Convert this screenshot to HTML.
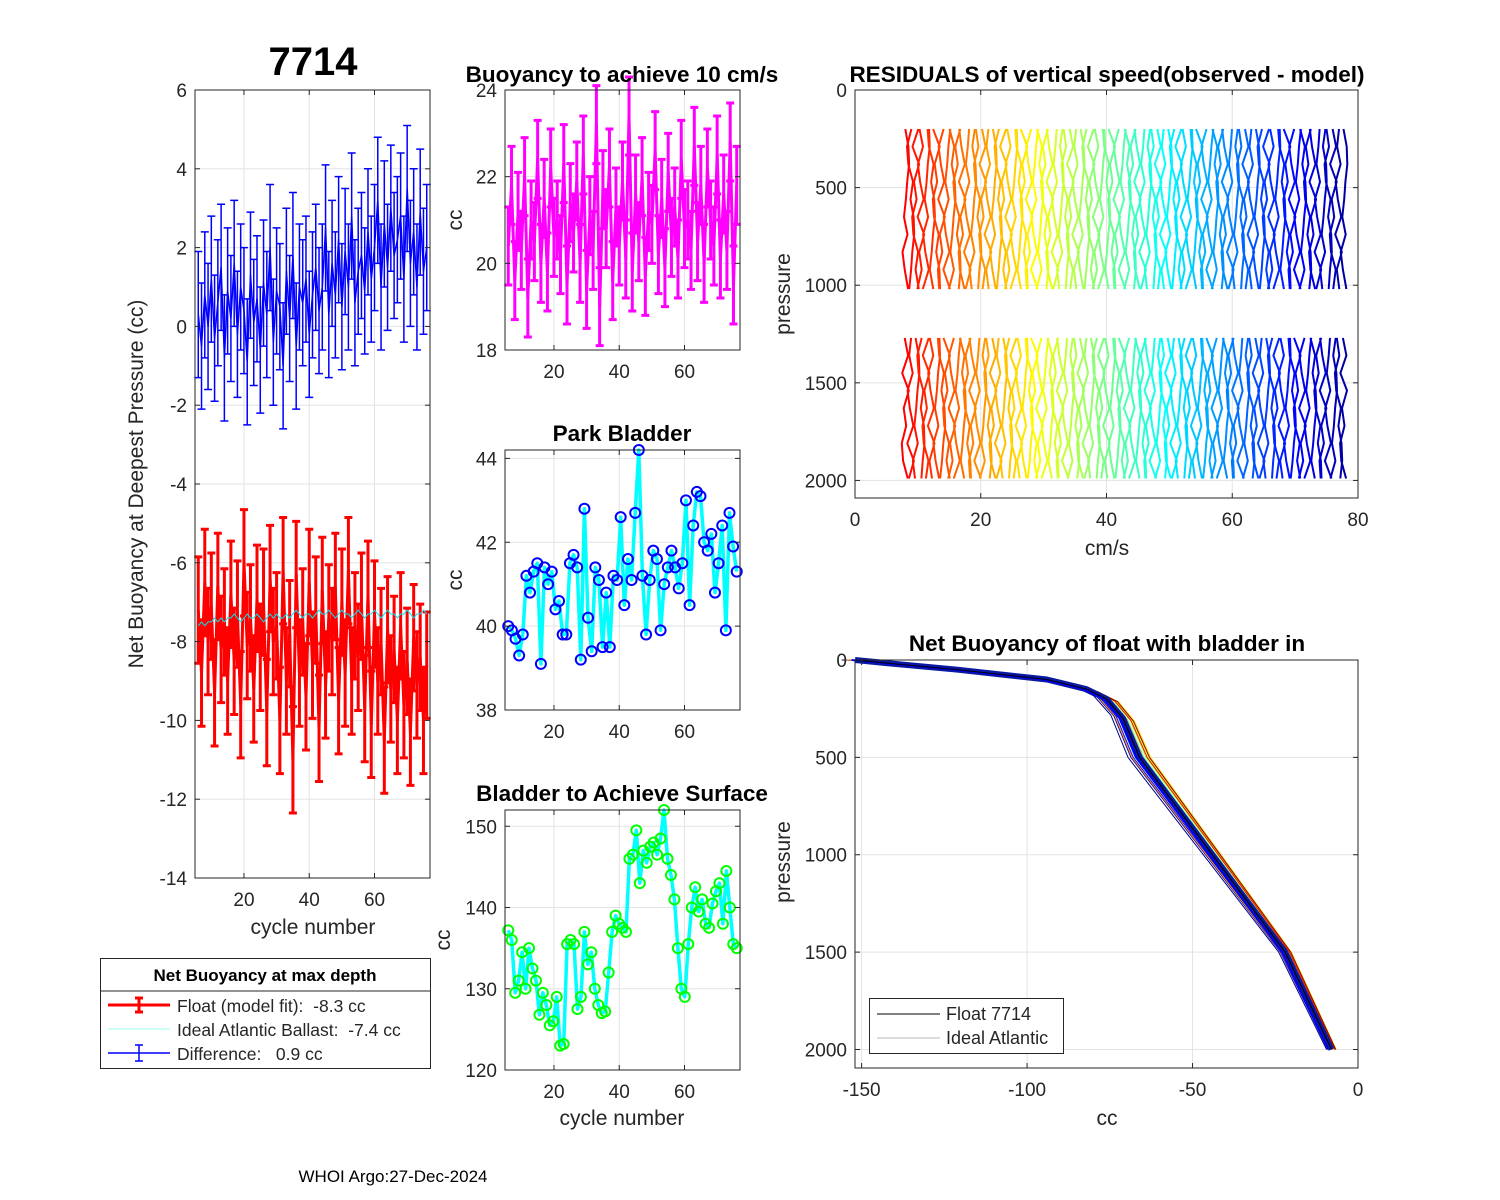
<!DOCTYPE html>
<html><head><meta charset="utf-8"><style>
html,body{margin:0;padding:0;background:#fff;}
svg{display:block;font-family:"Liberation Sans",Arial,sans-serif;}
text{white-space:pre;}
</style></head><body>
<svg id="s" width="1500" height="1200" viewBox="0 0 1500 1200" xmlns="http://www.w3.org/2000/svg"></svg>
<script>
// ---------- data ----------
const netRed=[-7.2,-8.8,-6.5,-8.0,-7.1,-9.3,-6.6,-8.2,-7.5,-9.0,-6.8,-8.5,-7.3,-9.6,-6.0,-8.1,-7.4,-9.2,-6.9,-8.4,-7.0,-9.8,-6.4,-8.0,-7.6,-10.0,-6.2,-9.0,-7.8,-11.0,-6.3,-8.8,-7.5,-9.4,-6.5,-8.6,-7.2,-10.2,-6.7,-9.1,-7.4,-8.0,-6.6,-9.5,-7.0,-8.8,-6.2,-9.0,-7.6,-8.4,-7.1,-9.7,-6.8,-10.1,-7.3,-9.0,-8.0,-10.5,-7.7,-9.2,-8.2,-10.0,-7.6,-9.6,-8.5,-10.3,-7.9,-9.1,-8.4,-10.0,-8.6];
const redErr=1.35;
const netBlue=[0.3,-0.5,0.8,0.0,1.2,-0.3,0.6,1.5,-0.8,0.9,0.2,1.6,-0.2,1.0,0.4,-0.9,1.3,0.1,0.7,-0.6,1.1,0.3,2.0,-0.4,0.9,0.5,-1.0,1.4,0.2,1.8,-0.5,1.0,0.6,1.2,-0.2,0.8,1.5,0.4,1.0,2.5,0.3,1.6,0.8,2.2,0.5,1.9,1.0,2.8,0.6,1.4,1.8,0.9,2.4,1.2,2.0,3.2,1.0,2.6,1.5,3.0,1.8,2.2,2.8,1.2,3.5,1.6,2.4,1.0,2.9,1.4,2.0];
const blueErr=1.6;
const idealAtl=[-7.6,-7.5,-7.6,-7.5,-7.5,-7.4,-7.5,-7.4,-7.5,-7.4,-7.4,-7.3,-7.4,-7.5,-7.4,-7.3,-7.4,-7.4,-7.3,-7.4,-7.5,-7.4,-7.3,-7.4,-7.3,-7.4,-7.4,-7.3,-7.4,-7.3,-7.2,-7.3,-7.4,-7.3,-7.3,-7.4,-7.3,-7.2,-7.3,-7.3,-7.2,-7.3,-7.4,-7.3,-7.2,-7.3,-7.3,-7.4,-7.3,-7.2,-7.3,-7.4,-7.3,-7.3,-7.2,-7.3,-7.4,-7.3,-7.2,-7.3,-7.3,-7.4,-7.3,-7.3,-7.2,-7.3,-7.4,-7.3,-7.3,-7.2,-7.3];
const buoy10=[20.4,21.8,19.6,21.2,20.3,22.0,19.2,21.0,20.5,22.4,20.0,21.5,19.8,22.2,20.6,21.0,20.2,22.3,19.5,21.4,20.7,21.9,20.0,22.5,19.4,21.1,20.3,23.2,19.0,21.7,20.8,22.2,19.6,21.3,20.4,21.9,20.1,23.4,19.8,21.6,20.5,22.0,19.7,21.2,20.9,22.6,20.2,21.5,19.9,22.1,20.6,21.3,20.1,22.4,20.8,21.0,20.3,22.7,20.5,21.8,20.0,22.2,21.0,20.4,22.5,20.1,21.6,20.3,22.8,19.5,21.8];
const buoyErr=0.9;
const parkBl=[40.0,39.9,39.7,39.3,39.8,41.2,40.8,41.3,41.5,39.1,41.4,41.0,41.3,40.4,40.6,39.8,39.8,41.5,41.7,41.4,39.2,42.8,40.2,39.4,41.4,41.1,39.5,40.8,39.5,41.2,41.1,42.6,40.5,41.6,41.1,42.7,44.2,41.2,39.8,41.1,41.8,41.6,39.9,41.0,41.4,41.8,41.4,40.9,41.5,43.0,40.5,42.4,43.2,43.1,42.0,41.8,42.2,40.8,41.5,42.4,39.9,42.7,41.9,41.3];
const surfBl=[137.2,136.0,129.5,131.0,134.5,130.0,135.0,132.5,131.0,126.8,129.5,128.0,125.5,126.0,129.0,123.0,123.2,135.5,136.0,135.5,127.5,129.0,137.0,133.0,134.5,130.0,128.0,127.0,127.2,132.0,137.0,139.0,138.0,137.5,137.0,146.0,146.5,149.5,143.0,147.0,145.5,147.5,148.0,146.5,148.5,152.0,146.0,144.0,141.0,135.0,130.0,129.0,135.5,140.0,142.5,139.5,141.0,138.0,137.5,140.5,142.0,143.0,138.0,144.5,140.0,135.5,135.0];
// residual profiles: centers (cm/s) and wiggles
const resCenters=[];for(let c=8;c<=78;c+=0.82)resCenters.push(c);
const resWiggle=[0.0,0.35,-0.25,0.5,-0.45,0.15,0.6,-0.1,-0.55,0.3,0.45,-0.35,0.1,-0.5,0.4,-0.2,0.55];
const resP1=[200,290,380,470,560,650,740,830,920,1020];
const resP2=[1270,1360,1450,1540,1630,1720,1810,1900,1990];
// net buoyancy profile
const nbP=[0,20,50,100,150,200,300,500,1000,1500,2000];
const nbCC=[-152,-140,-121,-94,-82,-76,-71,-66,-44,-22,-8];
const nbOffsets=[-4,-3,-2.2,-1.5,-0.8,0,0.8,1.5,2.2,3,3.8,-2.6,1.1,2.6,-1.1,3.4];

// ---------- helpers ----------
const S=document.getElementById('s');const NS='http://www.w3.org/2000/svg';
function el(tag,attrs,parent){const e=document.createElementNS(NS,tag);for(const k in attrs)e.setAttribute(k,attrs[k]);(parent||S).appendChild(e);return e;}
function txt(x,y,s,size,opts,parent){opts=opts||{};const t=el('text',{x:x,y:y,'font-size':size,fill:opts.fill||'#262626','text-anchor':opts.anchor||'middle','font-weight':opts.bold?'bold':'normal'},parent);if(opts.rot)t.setAttribute('transform','rotate(-90 '+x+' '+y+')');t.textContent=s;return t;}
function jet(v){const r=Math.min(Math.max(Math.min(4*v-1.5,-4*v+4.5),0),1);const g=Math.min(Math.max(Math.min(4*v-0.5,-4*v+3.5),0),1);const b=Math.min(Math.max(Math.min(4*v+0.5,-4*v+2.5),0),1);return 'rgb('+Math.round(r*255)+','+Math.round(g*255)+','+Math.round(b*255)+')';}
function axes(name,x0,y0,w,h,xmin,xmax,ymin,ymax,xt,yt,rev){
  const g=el('g',{});
  
  
  const sx=v=>x0+(v-xmin)/(xmax-xmin)*w;
  const sy=rev?(v=>y0+(v-ymin)/(ymax-ymin)*h):(v=>y0+h-(v-ymin)/(ymax-ymin)*h);
  el('rect',{x:x0,y:y0,width:w,height:h,fill:'#fff'},g);
  xt.forEach(v=>{el('line',{x1:sx(v),x2:sx(v),y1:y0,y2:y0+h,stroke:'#e3e3e3','stroke-width':1},g);});
  yt.forEach(v=>{el('line',{x1:x0,x2:x0+w,y1:sy(v),y2:sy(v),stroke:'#e3e3e3','stroke-width':1},g);});
  const plot=el('g',{},g);
  const top=el('g',{},g);
  el('rect',{x:x0,y:y0,width:w,height:h,fill:'none',stroke:'#262626','stroke-width':1},top);
  xt.forEach(v=>{el('line',{x1:sx(v),x2:sx(v),y1:y0+h,y2:y0+h-5,stroke:'#262626'},top);el('line',{x1:sx(v),x2:sx(v),y1:y0,y2:y0+5,stroke:'#262626'},top);
    const t=txt(sx(v),y0+h+28,String(v),19,{},top);});
  yt.forEach(v=>{el('line',{x1:x0,x2:x0+5,y1:sy(v),y2:sy(v),stroke:'#262626'},top);el('line',{x1:x0+w,x2:x0+w-5,y1:sy(v),y2:sy(v),stroke:'#262626'},top);
    const t=txt(x0-8,sy(v)+7,String(v),19,{anchor:'end'},top);});
  return {sx,sy,plot,top,g};
}
function pathD(xs,ys){return xs.map((x,i)=>(i?'L':'M')+x.toFixed(1)+' '+ys[i].toFixed(1)).join('');}
function errbars(ax,cyc,vals,err,color,lw,name){
  const g=el('g',{},ax.plot);
  
  
  let d='';
  vals.forEach((v,i)=>{const x=ax.sx(cyc[i]),a=ax.sy(v-err),b=ax.sy(v+err);d+='M'+x+' '+a+'L'+x+' '+b+'M'+(x-4)+' '+a+'L'+(x+4)+' '+a+'M'+(x-4)+' '+b+'L'+(x+4)+' '+b;});
  el('path',{d:d,stroke:color,'stroke-width':lw,fill:'none'},g);
  el('path',{d:pathD(cyc.map(ax.sx),vals.map(ax.sy)),stroke:color,'stroke-width':lw,fill:'none','stroke-linejoin':'round'},g);
}
const cyc=arr=>arr.map((_,i)=>6+i*70/(arr.length-1));
const TS=22.5;

// ---------- title ----------
const tt=txt(313,75,'7714',40,{bold:true,fill:'#000'});



// ---------- panel 1 ----------
const a1=axes('net-buoyancy-axes',195,90,235,788,5,77,-14,6,[20,40,60],[-14,-12,-10,-8,-6,-4,-2,0,2,4,6],false);
errbars(a1,cyc(netBlue),netBlue,blueErr,'#0000ff',1.5,'difference-series');
errbars(a1,cyc(netRed),netRed,redErr,'#ff0000',3,'float-model-fit-series');
const il=el('path',{d:pathD(cyc(idealAtl).map(a1.sx),idealAtl.map(a1.sy)),stroke:'#00e5ee','stroke-width':1,fill:'none'},a1.plot);


let t=txt(313,934,'cycle number',21);
t=txt(143,484,'Net Buoyancy at Deepest Pressure (cc)',21,{rot:true});

// legend box
const lg=el('g',{});


el('rect',{x:100.5,y:958.5,width:330,height:110,fill:'#fff',stroke:'#262626'},lg);
el('line',{x1:100,x2:431,y1:991,y2:991,stroke:'#262626'},lg);
txt(265,981,'Net Buoyancy at max depth',17,{bold:true,fill:'#000'},lg);
el('path',{d:'M108 1005L170 1005M139 998L139 1012M135 998L143 998M135 1012L143 1012',stroke:'#f00','stroke-width':3,fill:'none'},lg);
el('line',{x1:108,x2:170,y1:1029,y2:1029,stroke:'#9fe','stroke-width':1},lg);
el('path',{d:'M108 1053L170 1053M139 1045L139 1061M135 1045L143 1045M135 1061L143 1061',stroke:'#00f','stroke-width':1.5,fill:'none'},lg);
txt(177,1012,'Float (model fit):  -8.3 cc',17.5,{anchor:'start'},lg);
txt(177,1036,'Ideal Atlantic Ballast:  -7.4 cc',17.5,{anchor:'start'},lg);
txt(177,1060,'Difference:   0.9 cc',17.5,{anchor:'start'},lg);

// ---------- panel 2 ----------
const a2=axes('buoyancy-10cms-axes',505,90,235,260,5,77,18,24,[20,40,60],[18,20,22,24],false);
errbars(a2,cyc(buoy10),buoy10,buoyErr,'#ff00ff',3,'buoyancy-10cms-series');
t=txt(622,82,'Buoyancy to achieve 10 cm/s',TS,{bold:true,fill:'#000'});
t=txt(462,220,'cc',21,{rot:true});

// ---------- panel 3 ----------
const a3=axes('park-bladder-axes',505,450,235,260,5,77,38,44.2,[20,40,60],[38,40,42,44],false);
function lineMarkers(ax,vals,lc,mc,name){
  const g=el('g',{},ax.plot);
  
  
  const c=cyc(vals);
  el('path',{d:pathD(c.map(ax.sx),vals.map(ax.sy)),stroke:lc,'stroke-width':3.5,fill:'none','stroke-linejoin':'round'},g);
  vals.forEach((v,i)=>{el('circle',{cx:ax.sx(c[i]),cy:ax.sy(v),r:5,fill:'none',stroke:mc,'stroke-width':2},g);});
}
lineMarkers(a3,parkBl,'#00ffff','#0000ff','park-bladder-series');
t=txt(622,441,'Park Bladder',TS,{bold:true,fill:'#000'});
t=txt(462,580,'cc',21,{rot:true});

// ---------- panel 4 ----------
const a4=axes('surface-bladder-axes',505,810,235,260,5,77,120,152,[20,40,60],[120,130,140,150],false);
lineMarkers(a4,surfBl,'#00ffff','#00ff00','surface-bladder-series');
t=txt(622,801,'Bladder to Achieve Surface',TS,{bold:true,fill:'#000'});
t=txt(622,1125,'cycle number',21);
t=txt(450,940,'cc',21,{rot:true});

// ---------- panel 5 ----------
const a5=axes('residuals-axes',855,90,503,408,0,80,0,2090,[0,20,40,60,80],[0,500,1000,1500,2000],true);
const rg=el('g',{},a5.plot);


resCenters.forEach((c,j)=>{
  const col=jet(0.875-0.845*(c-8)/70);
  [resP1,resP2].forEach((P,k)=>{
    const xs=P.map((p,i)=>a5.sx(c+resWiggle[(i*3+j*5+k*7)%resWiggle.length]));
    el('path',{d:pathD(xs,P.map(a5.sy)),stroke:col,'stroke-width':2,fill:'none'},rg);
  });
});
t=txt(1107,82,'RESIDUALS of vertical speed(observed - model)',TS,{bold:true,fill:'#000'});
t=txt(1107,555,'cm/s',21);
t=txt(790,294,'pressure',21,{rot:true});

// ---------- panel 6 ----------
const a6=axes('net-buoyancy-profile-axes',855,660,503,408,-152,0,0,2095,[-150,-100,-50,0],[0,500,1000,1500,2000],true);
const pg=el('g',{},a6.plot);


nbOffsets.forEach((o,j)=>{
  const col=jet(j/(nbOffsets.length-1));
  el('path',{d:pathD(nbCC.map(v=>a6.sx(v+o*(0.3+0.7*Math.min(1,Math.abs(v)/80)))),nbP.map((p,i)=>a6.sy(p+o*4*(i>0&&i<7?1:0)))),stroke:col,'stroke-width':1,fill:'none'},pg);
});
el('path',{d:pathD(nbCC.map(a6.sx),nbP.map(a6.sy)),stroke:'#0a1aa0','stroke-width':6,fill:'none','stroke-linejoin':'round'},pg);
el('path',{d:pathD(nbCC.map(v=>a6.sx(v-1)),nbP.map(a6.sy)),stroke:'#0000ee','stroke-width':2,fill:'none'},pg);
el('path',{d:pathD(nbCC.map(a6.sx),nbP.map(a6.sy)),stroke:'#000','stroke-width':1,fill:'none'},pg);
const l6=el('g',{},a6.top);


el('rect',{x:869.5,y:998.5,width:194,height:55,fill:'#fff',stroke:'#262626'},l6);
el('line',{x1:877,x2:940,y1:1014,y2:1014,stroke:'#000'},l6);
el('line',{x1:877,x2:940,y1:1038,y2:1038,stroke:'#bbb'},l6);
txt(946,1020,'Float 7714',18,{anchor:'start'},l6);
txt(946,1044,'Ideal Atlantic',18,{anchor:'start'},l6);
t=txt(1107,651,'Net Buoyancy of float with bladder in',TS,{bold:true,fill:'#000'});
t=txt(1107,1125,'cc',21);
t=txt(790,862,'pressure',21,{rot:true});

t=txt(393,1182,'WHOI Argo:27-Dec-2024',17,{fill:'#000'});
</script>
</body></html>
